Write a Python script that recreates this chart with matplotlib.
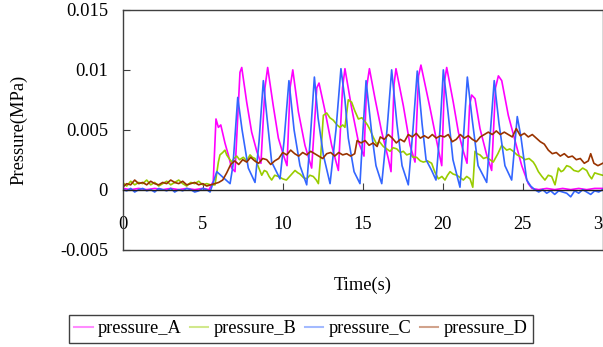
import matplotlib
matplotlib.use('Agg')
import matplotlib.pyplot as plt

# ---------------- data (time in s, pressure in MPa) ----------------
series_names = ['pressure_A', 'pressure_B', 'pressure_C', 'pressure_D']

a_t = [0, 0.5, 1, 1.5, 2, 2.5, 3, 3.5, 4, 4.5, 5, 5.4, 5.66, 5.83, 5.98, 6.13, 6.39, 6.60, 6.81, 7.02,
       7.33, 7.44, 7.75, 8.06, 8.38, 8.64, 8.89, 9.06, 9.41, 9.73, 10.04, 10.27, 10.46, 10.63, 10.98,
       11.39, 11.81, 12.13, 12.27, 12.64, 13.06, 13.48, 13.74, 13.89, 14.31, 14.73, 15.08, 15.24,
       15.42, 15.77, 16.19, 16.60, 16.77, 16.96, 17.08, 17.54, 17.96, 18.27, 18.49, 18.64, 19.21,
       19.63, 19.94, 20.11, 20.25, 20.66, 20.98, 21.29, 21.52, 21.68, 21.81, 22.02, 22.33, 22.75,
       23.06, 23.30, 23.48, 23.69, 24.10, 24.52, 24.94, 25.35, 25.58, 26.0, 26.5, 27.0, 27.5, 28.0,
       28.5, 29.0, 29.5, 30.0]
a_p = [0.0001, 0.0000, 0.0001, 0.0000, 0.0001, 0.0000, 0.0001, 0.0000, 0.0001, 0.0000, 0.0001, 0.0000,
       0.0007, 0.0059, 0.0052, 0.0054, 0.0039, 0.0029, 0.0018, 0.0015,
       0.0098, 0.0102, 0.0073, 0.0048, 0.0032, 0.0022, 0.0085, 0.0102, 0.0070, 0.0043, 0.0029, 0.0020,
       0.0085, 0.0100, 0.0065, 0.0037, 0.0018, 0.0085, 0.0089, 0.0066, 0.0037, 0.0016, 0.0085, 0.0101,
       0.0068, 0.0040, 0.0028, 0.0085, 0.0101, 0.0076, 0.0048, 0.0026, 0.0015, 0.0088, 0.0101, 0.0070,
       0.0037, 0.0023, 0.0095, 0.0104, 0.0068, 0.0040, 0.0020, 0.0090, 0.0102, 0.0073, 0.0048, 0.0032,
       0.0022, 0.0070, 0.0079, 0.0076, 0.0051, 0.0029, 0.0016, 0.0085, 0.0095, 0.0091, 0.0062, 0.0041,
       0.0020, 0.0005, 0.0001, 0.0000, 0.0001, 0.0000, 0.0001, 0.0000, 0.0001, 0.0000, 0.0001, 0.0001]

b_t = [0, 0.25, 0.5, 0.75, 1, 1.25, 1.5, 1.75, 2, 2.25, 2.5, 2.75, 3, 3.25, 3.5, 3.75, 4, 4.25, 4.5,
       4.75, 5, 5.25, 5.5,
       5.77, 5.98, 6.08, 6.25, 6.39, 6.50, 6.60, 6.81, 6.95, 7.13, 7.30, 7.54, 7.75, 7.96, 8.10, 8.27,
       8.45, 8.69, 8.85, 9.00, 9.15, 9.31, 9.50, 9.73, 10.00, 10.23, 10.50, 10.77, 10.95, 11.08, 11.30,
       11.50, 11.70, 11.91, 12.10, 12.23, 12.38, 12.54, 12.75, 12.95, 13.16, 13.40, 13.58, 13.75, 13.89,
       14.10, 14.31, 14.50, 14.73, 14.95, 15.14, 15.30, 15.46, 15.65, 15.87, 16.05, 16.29, 16.50, 16.71,
       16.90, 17.13, 17.35, 17.54, 17.75, 17.96, 18.15, 18.37, 18.60, 18.79, 19.05, 19.31, 19.50, 19.73,
       19.95, 20.14, 20.30, 20.46, 20.65, 20.88, 21.10, 21.29, 21.50, 21.71, 21.88, 22.02, 22.15, 22.33,
       22.55, 22.75, 22.95, 23.16, 23.45, 23.69, 23.85, 24.00, 24.20, 24.41, 24.65, 24.94, 25.14, 25.40,
       25.66, 25.80, 25.98, 26.20, 26.39, 26.60, 26.81, 27.02, 27.23, 27.40, 27.54, 27.75, 27.96, 28.20,
       28.48, 28.75, 29.00, 29.15, 29.31, 29.50, 29.73, 30.00]
b_p = [0.0006, 0.0003, 0.0007, 0.0004, 0.0006, 0.0005, 0.0008, 0.0004, 0.0006, 0.0003, 0.0005, 0.0007,
       0.0004, 0.0006, 0.0008, 0.0005, 0.0003, 0.0006, 0.0005, 0.0007, 0.0004, 0.0005, 0.0004,
       0.0004, 0.0023, 0.0029, 0.0031, 0.0033, 0.0029, 0.0027, 0.0023, 0.0026, 0.0028, 0.0025, 0.0027,
       0.0024, 0.0029, 0.0027, 0.0026, 0.0020, 0.0012, 0.0016, 0.0015, 0.0011, 0.0008, 0.0012, 0.0011,
       0.0009, 0.0008, 0.0012, 0.0016, 0.0014, 0.0013, 0.0010, 0.0009, 0.0012, 0.0011, 0.0008, 0.0005,
       0.0029, 0.0062, 0.0064, 0.0060, 0.0058, 0.0054, 0.0052, 0.0054, 0.0052, 0.0075, 0.0073, 0.0066,
       0.0059, 0.0060, 0.0057, 0.0054, 0.0050, 0.0044, 0.0038, 0.0040, 0.0036, 0.0034, 0.0032, 0.0035,
       0.0034, 0.0031, 0.0032, 0.0029, 0.0030, 0.0027, 0.0027, 0.0024, 0.0023, 0.0024, 0.0022, 0.0015,
       0.0009, 0.0011, 0.0008, 0.0012, 0.0015, 0.0013, 0.0012, 0.0010, 0.0008, 0.0011, 0.0009, 0.0002,
       0.0032, 0.0030, 0.0029, 0.0026, 0.0027, 0.0025, 0.0023, 0.0030, 0.0037, 0.0035, 0.0033, 0.0034,
       0.0032, 0.0029, 0.0027, 0.0025, 0.0026, 0.0023, 0.0020, 0.0015, 0.0011, 0.0008, 0.0012, 0.0011,
       0.0004, 0.0018, 0.0015, 0.0016, 0.0020, 0.0019, 0.0016, 0.0015, 0.0018, 0.0016, 0.0012, 0.0009,
       0.0014, 0.0013, 0.0012]

c_t = [0, 0.25, 0.5, 0.75, 1, 1.25, 1.5, 1.75, 2, 2.25, 2.5, 2.75, 3, 3.25, 3.5, 3.75, 4, 4.25, 4.5,
       4.75, 5, 5.25, 5.46, 5.88, 6.29, 6.71, 6.89, 7.19, 7.46, 7.85, 8.27, 8.52, 8.79, 9.02, 9.31, 9.83,
       10.08, 10.39, 10.71, 11.08, 11.50, 11.71, 11.98, 12.21, 12.54, 12.96, 13.33, 13.64, 13.89, 14.10,
       14.46, 14.83, 15.02, 15.21, 15.58, 15.83, 16.19, 16.52, 16.81, 17.14, 17.46, 17.85, 18.14, 18.41,
       18.71, 18.96, 19.31, 19.58, 19.83, 20.04, 20.33, 20.64, 21.08, 21.33, 21.54, 21.83, 22.21, 22.75,
       22.99, 23.22, 23.52, 23.89, 24.31, 24.66, 24.89, 25.25, 25.5, 25.75, 26.0, 26.25, 26.5, 26.75,
       27.0, 27.25, 27.5, 27.75, 28.0, 28.25, 28.5, 28.75, 29.0, 29.25, 29.5, 29.75, 30.0]
c_p = [0.0000, -0.0001, 0.0001, -0.0002, 0.0000, 0.0001, -0.0001, 0.0000, -0.0002, 0.0001, 0.0000,
       -0.0001, 0.0001, -0.0002, 0.0000, -0.0001, 0.0001, 0.0000, -0.0002, -0.0001, 0.0001, 0.0000,
       -0.0002, 0.0015, 0.0010, 0.0005, 0.0020, 0.0077, 0.0050, 0.0018, 0.0006, 0.0040, 0.0091, 0.0060,
       0.0023, 0.0009, 0.0040, 0.0091, 0.0050, 0.0020, 0.0004, 0.0040, 0.0094, 0.0060, 0.0029, 0.0005,
       0.0050, 0.0101, 0.0075, 0.0043, 0.0015, 0.0005, 0.0050, 0.0091, 0.0045, 0.0020, 0.0005, 0.0050,
       0.0100, 0.0055, 0.0020, 0.0004, 0.0050, 0.0099, 0.0055, 0.0025, 0.0016, 0.0008, 0.0050, 0.0100,
       0.0065, 0.0025, 0.0002, 0.0050, 0.0094, 0.0060, 0.0020, 0.0006, 0.0050, 0.0091, 0.0055, 0.0020,
       0.0008, 0.0061, 0.0044, 0.0008, 0.0003, 0.0000, -0.0002, 0.0000, -0.0003, -0.0001, -0.0004,
       -0.0001, -0.0002, -0.0003, -0.0006, -0.0001, -0.0003, 0.0000, -0.0002, -0.0004, -0.0001,
       -0.0002, 0.0000]

d_t = [0, 0.25, 0.5, 0.75, 1, 1.25, 1.5, 1.75, 2, 2.25, 2.5, 2.75, 3, 3.25, 3.5, 3.75, 4, 4.25, 4.5,
       4.75, 5, 5.25, 5.5, 5.75,
       6.00, 6.25, 6.50, 6.75, 7.00, 7.25, 7.50, 7.75, 8.00, 8.25, 8.50, 8.75, 9.00, 9.25, 9.50, 9.75,
       10.00, 10.25, 10.50, 10.75, 11.00, 11.25, 11.50, 11.75, 12.00, 12.25, 12.50, 12.75, 13.00, 13.25,
       13.50, 13.75, 14.00, 14.25, 14.50, 14.65, 14.90, 15.15, 15.40, 15.65, 15.90, 16.10, 16.35, 16.60,
       16.85, 17.10, 17.35, 17.60, 17.85, 18.10, 18.35, 18.60, 18.85, 19.10, 19.35, 19.60, 19.85, 20.10,
       20.35, 20.60, 20.85, 21.10, 21.35, 21.60, 21.85, 22.10, 22.35, 22.60, 22.85, 23.10, 23.35, 23.60,
       23.85, 24.10, 24.35, 24.60, 24.85, 25.10, 25.35, 25.60, 25.85, 26.10, 26.35, 26.60, 26.85, 27.10,
       27.35, 27.60, 27.85, 28.10, 28.35, 28.60, 28.85, 29.10, 29.25, 29.45, 29.70, 30.00]
d_p = [0.0002, 0.0005, 0.0004, 0.0008, 0.0005, 0.0006, 0.0004, 0.0007, 0.0005, 0.0004, 0.0006, 0.0005,
       0.0008, 0.0006, 0.0005, 0.0007, 0.0004, 0.0005, 0.0006, 0.0004, 0.0005, 0.0003, 0.0004, 0.0005,
       0.0006, 0.0008, 0.0014, 0.0021, 0.0024, 0.0021, 0.0025, 0.0023, 0.0027, 0.0024, 0.0022, 0.0026,
       0.0025, 0.0021, 0.0024, 0.0026, 0.0031, 0.0029, 0.0033, 0.0030, 0.0028, 0.0031, 0.0029, 0.0032,
       0.0030, 0.0028, 0.0026, 0.0030, 0.0031, 0.0028, 0.0031, 0.0029, 0.0030, 0.0028, 0.0030, 0.0041,
       0.0039, 0.0041, 0.0037, 0.0039, 0.0036, 0.0044, 0.0042, 0.0046, 0.0043, 0.0039, 0.0042, 0.0040,
       0.0046, 0.0044, 0.0047, 0.0043, 0.0045, 0.0043, 0.0046, 0.0043, 0.0045, 0.0044, 0.0046, 0.0040,
       0.0042, 0.0046, 0.0043, 0.0045, 0.0042, 0.0040, 0.0044, 0.0046, 0.0048, 0.0046, 0.0049, 0.0046,
       0.0048, 0.0046, 0.0044, 0.0051, 0.0045, 0.0047, 0.0044, 0.0046, 0.0043, 0.0040, 0.0038, 0.0033,
       0.0030, 0.0031, 0.0028, 0.0030, 0.0027, 0.0028, 0.0025, 0.0026, 0.0022, 0.0024, 0.0030, 0.0022,
       0.0020, 0.0022]

xticks = [0, 5, 10, 15, 20, 25, 30]
xtick_labels = ['0', '5', '10', '15', '20', '25', '30']
yticks = [-0.005, 0, 0.005, 0.01, 0.015]
ytick_labels = ['-0.005', '0', '0.005', '0.01', '0.015']

colors = ['#FF00FF', '#99CC00', '#3366FF', '#993300']

# ---------------- figure ----------------
plt.rcParams['font.family'] = ['Liberation Serif', 'DejaVu Serif']
fs = 13.3
frame_col = '#404040'

fig = plt.figure(figsize=(6.03, 3.47), dpi=100)
pos = [122.7 / 603, 97.5 / 347, 480 / 603, 239.5 / 347]

frame = fig.add_axes(pos, zorder=0)
frame.set_xlim(0, 30)
frame.set_ylim(-0.005, 0.015)
frame.set_xticks([])
frame.set_yticks([])
for s in ['left', 'top', 'right']:
    frame.spines[s].set_visible(False)
frame.spines['bottom'].set_color(frame_col)
frame.spines['bottom'].set_linewidth(1.0)

ax = fig.add_axes(pos, zorder=1)
ax.set_facecolor('none')

for t, p, c, name in zip([a_t, b_t, c_t, d_t], [a_p, b_p, c_p, d_p], colors, series_names):
    ax.plot(t, p, color=c, lw=1.2, label=name)

ax.set_xlim(0, 30)
ax.set_ylim(-0.005, 0.015)
ax.spines['bottom'].set_position(('data', 0))
ax.spines['bottom'].set_color('#202020')
for s in ['left', 'top', 'right']:
    ax.spines[s].set_color(frame_col)
for s in ax.spines.values():
    s.set_linewidth(1.0)

ax.set_xticks(xticks)
ax.set_xticklabels(xtick_labels)
ax.set_yticks(yticks)
ax.set_yticklabels(ytick_labels)
ax.tick_params(axis='x', direction='in', length=5, pad=19, labelsize=fs, color=frame_col, top=False)
ax.tick_params(axis='y', direction='in', length=5, pad=10.5, labelsize=fs, color=frame_col, right=False)

ax.set_xlabel('Time(s)', fontsize=fs)
ax.xaxis.set_label_coords(0.5, -0.115)
ax.set_ylabel('Pressure(MPa)', fontsize=fs)
ax.yaxis.set_label_coords(-0.198, 0.5)

leg = fig.legend(loc='center', bbox_to_anchor=(0.499, 0.053), ncol=4, frameon=True, fancybox=False,
                 edgecolor=frame_col, framealpha=1, handlelength=1.0, handletextpad=0.3,
                 columnspacing=0.45, borderpad=0.3, fontsize=13.2)
leg.get_frame().set_linewidth(1.0)
for h in leg.legend_handles:
    h.set_alpha(0.45)
    h.set_linewidth(1.5)

fig.savefig('out.png', dpi=100)
